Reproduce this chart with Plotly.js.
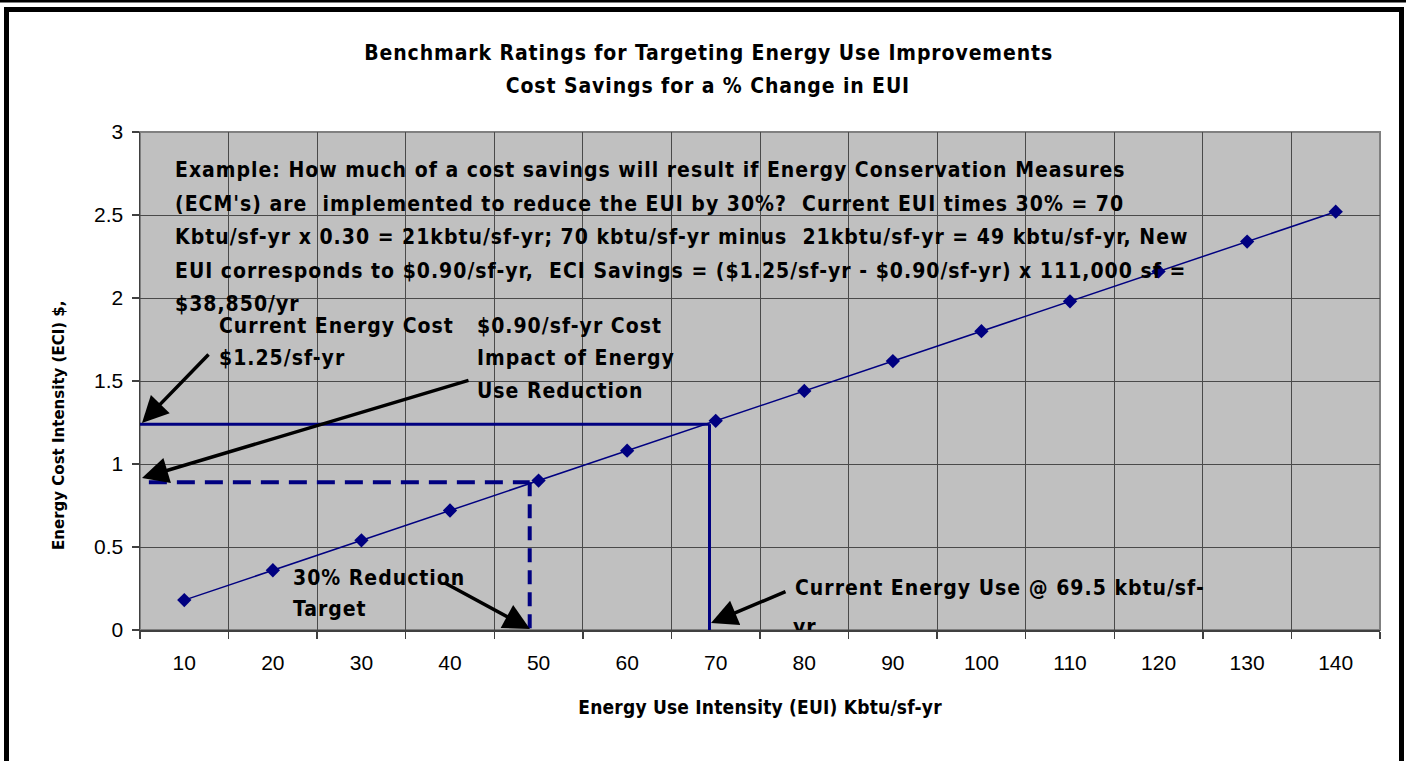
<!DOCTYPE html>
<html>
<head>
<meta charset="utf-8">
<script src="https://cdn.plot.ly/plotly-3.0.1.min.js"></script>
<style>
html,body{margin:0;padding:0;background:#fff;}
#chart{width:1406px;height:761px;}
</style>
</head>
<body>
<div id="chart"></div>
<script>
// ---- Data ----
const euiCategories = [10, 20, 30, 40, 50, 60, 70, 80, 90, 100, 110, 120, 130, 140];
const eciValues = [0.18, 0.36, 0.54, 0.72, 0.90, 1.08, 1.26, 1.44, 1.62, 1.80, 1.98, 2.16, 2.34, 2.52];
const xTickLabels = ["10","20","30","40","50","60","70","80","90","100","110","120","130","140"];
const yTickValues = [0, 0.5, 1, 1.5, 2, 2.5, 3];
const yTickLabels = ["0","0.5","1","1.5","2","2.5","3"];
const categoryBoundaries = [5,15,25,35,45,55,65,75,85,95,105,115,125,135,145];
// reference guide values (current and target)
const currentEUI = 69.3, currentECI = 1.24;
const targetEUI = 49.0, targetECI = 0.89;

const titleLines = ["Benchmark Ratings for Targeting Energy Use Improvements", "Cost Savings for a % Change in EUI"];
const xTitle = "Energy Use Intensity (EUI) Kbtu/sf-yr";
const yTitle = "Energy Cost Intensity (ECI) $,";
const exampleLines = [
  "Example: How much of a cost savings will result if Energy Conservation Measures",
  "(ECM's) are  implemented to reduce the EUI by 30%?  Current EUI times 30% = 70",
  "Kbtu/sf-yr x 0.30 = 21kbtu/sf-yr; 70 kbtu/sf-yr minus  21kbtu/sf-yr = 49 kbtu/sf-yr, New",
  "EUI corresponds to $0.90/sf-yr,  ECI Savings = ($1.25/sf-yr - $0.90/sf-yr) x 111,000 sf =",
  "$38,850/yr"
];
const costLabel = ["Current Energy Cost", "$1.25/sf-yr"];
const impactLabel = ["$0.90/sf-yr Cost", "Impact of Energy", "Use Reduction"];
const reductionLabel = ["30% Reduction", "Target"];
const currentUseLabel = ["Current Energy Use @ 69.5 kbtu/sf-", "yr"];

// ---- Layout geometry (pixels) ----
const W = 1406, H = 761, L = 140, R = 1380, T = 132, B = 630;
const px = x => (x - L) / (R - L);
const py = y => (B - y) / (B - T);
const dx = x => (x - L) / ((R - L) / 14) * 10 + 5;
const dy = y => (B - y) / ((B - T) / 3);

const NAVY = "#000080";
const NARROW = "DejaVu Sans Condensed, DejaVu Sans, sans-serif";
const bodyFont = {family: NARROW, size: 21, color: "#000", weight: 700};
const titleFont = {family: NARROW, size: 21, color: "#000", weight: 700};
const xTitleFont = {family: NARROW, size: 19, color: "#000", weight: 700};
const yTitleFont = {family: NARROW, size: 16.7, color: "#000", weight: 700};
const BODY_SPACING = 1.0, TITLE_SPACING = 0.9, XT_SPACING = 0.2, YT_SPACING = 0;

const traces = [
  {
    x: euiCategories, y: eciValues, type: "scatter", mode: "lines+markers",
    line: {color: NAVY, width: 1.5},
    marker: {symbol: "diamond", size: 11, color: NAVY},
    hoverinfo: "x+y", showlegend: false
  },
  {
    // second line of the "Current Energy Use" label, clipped by the plot area as in the original
    x: [dx(793)], y: [dy(629)], type: "scatter", mode: "text",
    text: [currentUseLabel[1]], textposition: "middle right",
    textfont: bodyFont, cliponaxis: true, hoverinfo: "skip", showlegend: false
  }
];

const annotations = [];
const spacing = [];
function addAnn(a, sp) { annotations.push(a); spacing.push(sp); }

// Title
titleLines.forEach((t, i) => addAnn({
  xref: "paper", yref: "paper", x: px(708), y: py([53, 86][i]),
  xanchor: "center", yanchor: "middle", align: "center", text: t, showarrow: false, font: titleFont
}, TITLE_SPACING));
// X axis title
addAnn({xref: "paper", yref: "paper", x: px(760), y: py(707), xanchor: "center", yanchor: "middle", align: "center",
  text: xTitle, showarrow: false, font: xTitleFont}, XT_SPACING);
// Y axis title
addAnn({xref: "paper", yref: "paper", x: px(58), y: py(425), xanchor: "center", yanchor: "middle", align: "center",
  text: yTitle, textangle: -90, showarrow: false, font: yTitleFont}, YT_SPACING);

function addLines(lines, leftPx, centersPx) {
  lines.forEach((t, i) => addAnn({
    x: dx(leftPx), y: dy(centersPx[i]), xref: "x", yref: "y",
    xanchor: "left", yanchor: "middle", align: "left", text: t, showarrow: false, font: bodyFont
  }, BODY_SPACING));
}
addLines(exampleLines, 173, [170, 203.5, 237, 270.5, 304]);
addLines(costLabel, 217, [326, 357.5]);
addLines(impactLabel, 475, [326, 357.5, 391]);
addLines(reductionLabel, 291, [578, 609]);
addLines([currentUseLabel[0]], 793, [587.5]);

// Arrows: [headX, headY, tailX, tailY] in pixels
const arrows = [
  [142, 423, 210, 353],
  [142, 478, 470, 380],
  [530, 629, 443, 582],
  [711, 623, 787, 591]
];
arrows.forEach(a => addAnn({
  x: dx(a[0]), y: dy(a[1]), ax: dx(a[2]), ay: dy(a[3]),
  xref: "x", yref: "y", axref: "x", ayref: "y", text: "",
  showarrow: true, arrowhead: 2, arrowsize: 1.5, arrowwidth: 3.5, arrowcolor: "#000", standoff: 0
}, 0));

const shapes = [
  // page frame
  {type: "line", xref: "paper", yref: "paper", x0: px(0), x1: px(W), y0: py(1), y1: py(1), line: {color: "#000", width: 3}},
  {type: "rect", xref: "paper", yref: "paper", x0: px(6.5), x1: px(1401.5), y0: py(800), y1: py(9.5), line: {color: "#000", width: 5}},
  // plot border
  {type: "rect", xref: "paper", yref: "paper", x0: 0, x1: 1, y0: 0, y1: 1, line: {color: "#808080", width: 2}, layer: "below"},
  // current guide lines
  {type: "line", xref: "x", yref: "y", x0: 5, x1: currentEUI, y0: currentECI, y1: currentECI, line: {color: NAVY, width: 3}},
  {type: "line", xref: "x", yref: "y", x0: currentEUI, x1: currentEUI, y0: currentECI, y1: 0, line: {color: NAVY, width: 3}},
  // target guide lines (dashed)
  {type: "line", xref: "x", yref: "y", x0: 6.0, x1: targetEUI, y0: targetECI, y1: targetECI, line: {color: NAVY, width: 4, dash: "18px,10px"}},
  {type: "line", xref: "x", yref: "y", x0: targetEUI, x1: targetEUI, y0: targetECI, y1: 0, line: {color: NAVY, width: 4, dash: "14px,8px"}}
];

const tickFont = {family: "Liberation Sans, Arial, sans-serif", size: 21, color: "#000"};
const layout = {
  width: W, height: H,
  margin: {l: L, r: W - R, t: T, b: H - B, pad: 0},
  paper_bgcolor: "#fff", plot_bgcolor: "#C0C0C0",
  showlegend: false,
  xaxis: {
    range: [5, 145], tickvals: euiCategories, ticktext: xTickLabels,
    ticks: "", showgrid: false, zeroline: false,
    showline: true, linecolor: "#404040", linewidth: 1.5,
    tickfont: tickFont, ticklabelstandoff: 13,
    minor: {tickvals: categoryBoundaries, ticks: "outside", ticklen: 7, tickcolor: "#404040", tickwidth: 1.5,
            showgrid: true, gridcolor: "#4a4a4a", gridwidth: 1},
    fixedrange: true
  },
  yaxis: {
    range: [0, 3], tickvals: yTickValues, ticktext: yTickLabels,
    ticks: "outside", ticklen: 7, tickcolor: "#404040", tickwidth: 1.5,
    showgrid: true, gridcolor: "#4a4a4a", gridwidth: 1, zeroline: false,
    showline: true, linecolor: "#404040", linewidth: 1.5,
    tickfont: tickFont, ticklabelstandoff: 4,
    fixedrange: true
  },
  shapes: shapes,
  annotations: annotations
};

Plotly.newPlot("chart", traces, layout, {displayModeBar: false, staticPlot: true}).then(gd => {
  gd.querySelectorAll("g.annotation").forEach(g => {
    const i = +g.getAttribute("data-index");
    const sp = spacing[i];
    if (sp) g.querySelectorAll("text").forEach(t => t.style.letterSpacing = sp + "px");
  });
  gd.querySelectorAll(".textpoint text").forEach(t => t.style.letterSpacing = BODY_SPACING + "px");
});
</script>
</body>
</html>
